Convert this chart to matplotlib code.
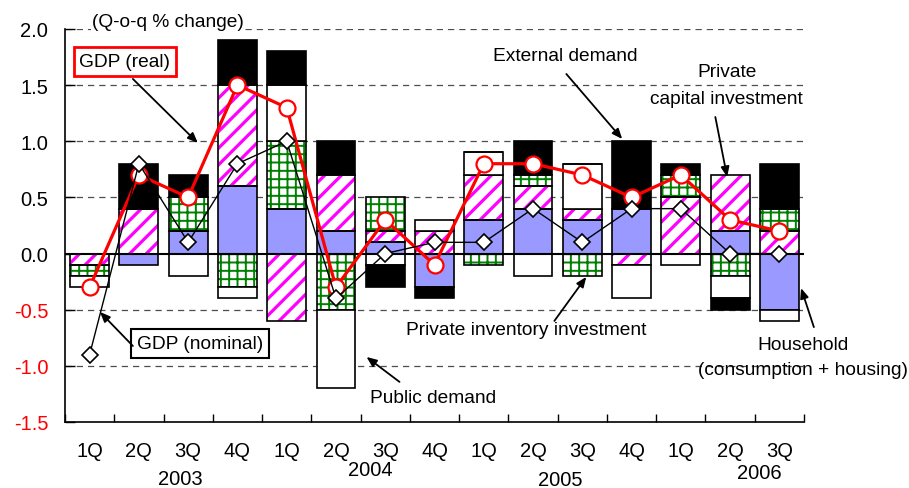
import numpy as np
import matplotlib
matplotlib.use('Agg')
from matplotlib import pyplot as plt

plt.rcParams['font.family'] = ['Liberation Sans', 'DejaVu Sans']
plt.rcParams['hatch.linewidth'] = 1.4

# quarters 2003Q1 .. 2006Q3
quarters = ['1Q', '2Q', '3Q', '4Q', '1Q', '2Q', '3Q', '4Q',
            '1Q', '2Q', '3Q', '4Q', '1Q', '2Q', '3Q']
years = ['2003', '2004', '2005', '2006']

# contributions (percentage points)
household = [0.0, -0.1, 0.2, 0.6, 0.4, 0.2, 0.1, -0.3, 0.3, 0.4, 0.3, 0.4, 0.0, 0.2, -0.5]
capital = [-0.1, 0.4, 0.0, 0.9, -0.6, 0.5, 0.1, 0.2, 0.4, 0.2, 0.1, -0.1, 0.5, 0.5, 0.2]
inventory = [-0.1, 0.0, 0.3, -0.3, 0.6, -0.5, 0.3, 0.0, -0.1, 0.1, -0.2, 0.0, 0.2, -0.2, 0.2]
public = [-0.1, 0.0, -0.2, -0.1, 0.5, -0.7, -0.1, 0.1, 0.2, -0.2, 0.4, -0.3, -0.1, -0.2, -0.1]
external = [0.0, 0.4, 0.2, 0.4, 0.3, 0.3, -0.2, -0.1, 0.0, 0.3, 0.0, 0.6, 0.1, -0.1, 0.4]

gdp_real = [-0.3, 0.7, 0.5, 1.5, 1.3, -0.3, 0.3, -0.1, 0.8, 0.8, 0.7, 0.5, 0.7, 0.3, 0.2]
gdp_nominal = [-0.9, 0.8, 0.1, 0.8, 1.0, -0.4, 0.0, 0.1, 0.1, 0.4, 0.1, 0.4, 0.4, 0.0, 0.0]

x = np.arange(len(quarters))
width = 0.79

fig = plt.figure(figsize=(9.09, 4.89), dpi=100)
ax = fig.add_axes([0.0715, 0.135, 0.813, 0.8037])

# dashed grid
for yv in [-1.0, -0.5, 0.5, 1.0, 1.5, 2.0]:
    ax.axhline(yv, color='0.3', lw=0.9, ls=(0, (5, 4)), zorder=0)

# stacked bars, positives and negatives stacked separately
series = [
    (household, dict(color='#9999ff')),
    (capital, dict(color='white', hatch='//', hcol='#ff00ff', hlw=2.3)),
    (inventory, dict(color='white', hatch='++', hcol='#008000', hlw=1.4)),
    (public, dict(color='white')),
    (external, dict(color='black')),
]
pos_bottom = np.zeros(len(x))
neg_bottom = np.zeros(len(x))
for vals, st in series:
    vals = np.array(vals)
    bottom = np.where(vals >= 0, pos_bottom, neg_bottom)
    if 'hatch' in st:
        with plt.rc_context({'hatch.linewidth': st['hlw']}):
            bars = ax.bar(x, vals, width, bottom=bottom, color=st['color'],
                          edgecolor=st['hcol'], hatch=st['hatch'], lw=0, zorder=2)
        for p in bars:
            if hasattr(p, 'set_hatch_linewidth'):
                p.set_hatch_linewidth(st['hlw'])
        ax.bar(x, vals, width, bottom=bottom, facecolor='none',
               edgecolor='black', lw=1.2, zorder=3)
    else:
        ax.bar(x, vals, width, bottom=bottom, color=st['color'],
               edgecolor='black', lw=1.2, zorder=3)
    pos_bottom = pos_bottom + np.where(vals >= 0, vals, 0)
    neg_bottom = neg_bottom + np.where(vals < 0, vals, 0)

ax.axhline(0, color='black', lw=1.5, zorder=4)

# GDP lines
ax.plot(x, gdp_real, color='red', lw=2.3, marker='o', ms=11.5,
        mfc='white', mec='red', mew=1.6, zorder=5)
ax.plot(x, gdp_nominal, color='black', lw=1.0, marker='D', ms=8.5,
        mfc='white', mec='black', mew=1.2, zorder=6)

ax.set_xlim(-0.5, len(x) - 0.5)
ax.set_ylim(-1.5, 2.0)

for s in ['top', 'right']:
    ax.spines[s].set_visible(False)
for s in ['left', 'bottom']:
    ax.spines[s].set_linewidth(1.2)

yt = np.arange(-1.5, 2.01, 0.5)
ax.set_yticks(yt)
ax.set_yticklabels(['{:.1f}'.format(v) for v in yt], fontsize=14.5)
for lab, v in zip(ax.get_yticklabels(), yt):
    lab.set_color('red' if v < 0 else 'black')
ax.tick_params(axis='y', direction='in', length=7, width=1, pad=12)

ax.set_xticks(np.arange(-0.5, len(x), 1.0))
ax.set_xticklabels([])
ax.tick_params(axis='x', which='major', direction='in', length=6, width=1)
ax.set_xticks(x, minor=True)
ax.set_xticklabels(quarters, minor=True, fontsize=14.5)
ax.tick_params(axis='x', which='minor', length=0, pad=14)

year_pos = [(1.85, -2.00), (5.70, -1.92), (9.55, -2.01), (13.59, -1.95)]
for yr, (xp, yp) in zip(years, year_pos):
    ax.text(xp, yp, yr, fontsize=14.5, ha='center', va='center', clip_on=False)

# annotations
fs = 13.8
arrow = dict(arrowstyle='-|>,head_length=0.6,head_width=0.25', color='black', lw=1.3,
             shrinkA=0, shrinkB=0)

ax.text(1.59, 2.065, '(Q-o-q % change)', fontsize=fs, ha='center', va='center',
        bbox=dict(facecolor='white', edgecolor='none', pad=1), zorder=7)

ax.text(0.716, 1.711, 'GDP (real)', fontsize=fs, ha='center', va='center', zorder=7,
        bbox=dict(boxstyle='square,pad=0.3', facecolor='white', edgecolor='red', lw=2))
ax.annotate('', xy=(2.196, 0.985), xytext=(0.878, 1.555), arrowprops=arrow, zorder=7)

ax.text(2.237, -0.801, 'GDP (nominal)', fontsize=fs, ha='center', va='center', zorder=7,
        bbox=dict(boxstyle='square,pad=0.3', facecolor='white', edgecolor='black', lw=1.5))
ax.annotate('', xy=(0.21, -0.52), xytext=(0.878, -0.823), arrowprops=arrow, zorder=7)

ax.text(9.656, 1.76, 'External demand', fontsize=fs, ha='center', va='center')
ax.annotate('', xy=(10.81, 1.02), xytext=(9.676, 1.599), arrowprops=arrow, zorder=7)

ax.text(12.94, 1.617, 'Private', fontsize=fs, ha='center', va='center')
ax.text(12.92, 1.377, 'capital investment', fontsize=fs, ha='center', va='center')
ax.annotate('', xy=(12.94, 0.682), xytext=(12.70, 1.216), arrowprops=arrow, zorder=7)

ax.text(8.866, -0.68, 'Private inventory investment', fontsize=fs, ha='center', va='center')
ax.annotate('', xy=(10.08, -0.208), xytext=(9.433, -0.60), arrowprops=arrow, zorder=7)

ax.text(6.98, -1.286, 'Public demand', fontsize=fs, ha='center', va='center')
ax.annotate('', xy=(5.62, -0.921), xytext=(6.29, -1.143), arrowprops=arrow, zorder=7)

ax.text(14.48, -0.806, 'Household', fontsize=fs, ha='center', va='center', clip_on=False)
ax.text(14.48, -1.037, '(consumption + housing)', fontsize=fs, ha='center', va='center',
        clip_on=False)
ax.annotate('', xy=(14.44, -0.308), xytext=(14.70, -0.655), arrowprops=arrow,
            annotation_clip=False, zorder=7)

plt.savefig('out.png', dpi=100)
